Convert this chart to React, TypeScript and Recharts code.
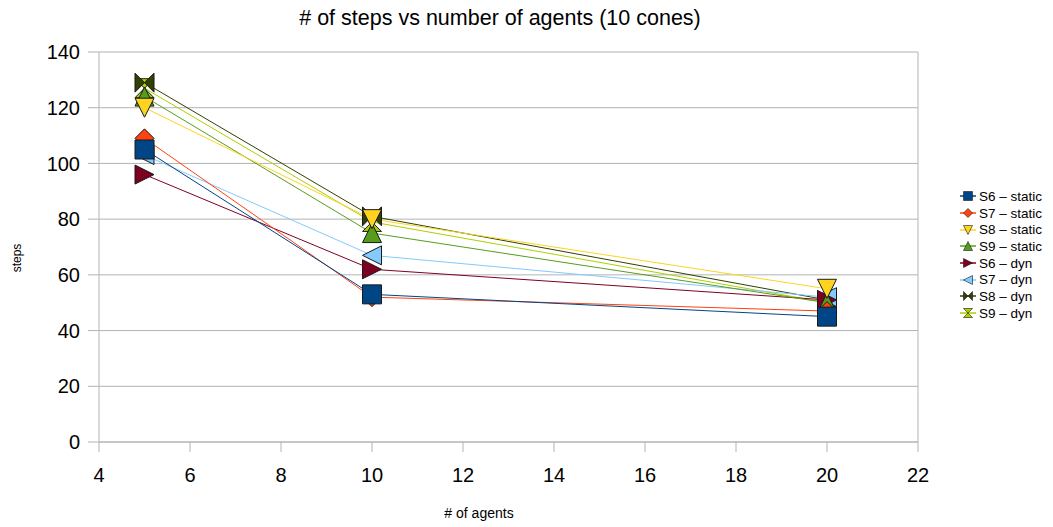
import React from 'react';
import { LineChart, Line, XAxis, YAxis, CartesianGrid, ReferenceLine } from 'recharts';

// # of steps vs number of agents (10 cones)
const agents = [5, 10, 20];

const s6Static = [105, 53, 45];
const s7Static = [109, 52, 47];
const s8Static = [120, 80, 55];
const s9Static = [124, 75, 50];
const s6Dyn = [96, 62, 51];
const s7Dyn = [103, 67, 52];
const s8Dyn = [129, 81, 51];
const s9Dyn = [127, 79, 50];

const xTicks = [4, 6, 8, 10, 12, 14, 16, 18, 20, 22];
const yTicks = [0, 20, 40, 60, 80, 100, 120, 140];

type Shape = 'square' | 'diamond' | 'down' | 'up' | 'right' | 'left' | 'bowtie' | 'hourglass';

const series: { key: string; name: string; color: string; shape: Shape; values: number[] }[] = [
    { key: 's6s', name: 'S6 – static', color: '#004586', shape: 'square', values: s6Static },
    { key: 's7s', name: 'S7 – static', color: '#ff420e', shape: 'diamond', values: s7Static },
    { key: 's8s', name: 'S8 – static', color: '#ffd320', shape: 'down', values: s8Static },
    { key: 's9s', name: 'S9 – static', color: '#579d1c', shape: 'up', values: s9Static },
    { key: 's6d', name: 'S6 – dyn', color: '#7e0021', shape: 'right', values: s6Dyn },
    { key: 's7d', name: 'S7 – dyn', color: '#83caff', shape: 'left', values: s7Dyn },
    { key: 's8d', name: 'S8 – dyn', color: '#314004', shape: 'bowtie', values: s8Dyn },
    { key: 's9d', name: 'S9 – dyn', color: '#aecf00', shape: 'hourglass', values: s9Dyn },
];

const data = agents.map((x, i) => {
    const row: Record<string, number> = { x };
    series.forEach((s) => {
        row[s.key] = s.values[i];
    });
    return row;
});

const FONT = '"Liberation Sans", Arial, sans-serif';
const GRID = '#b3b3b3';

function markerPoints(shape: Shape, cx: number, cy: number, r: number): string {
    const p: [number, number][] = {
        square: [[-r, -r], [r, -r], [r, r], [-r, r]],
        diamond: [[0, -r], [r, 0], [0, r], [-r, 0]],
        down: [[-r, -r], [r, -r], [0, r]],
        up: [[0, -r], [r, r], [-r, r]],
        right: [[-r, -r], [r, 0], [-r, r]],
        left: [[r, -r], [-r, 0], [r, r]],
        bowtie: [[-r, -r], [r, r], [r, -r], [-r, r]],
        hourglass: [[-r, -r], [r, -r], [-r, r], [r, r]],
    }[shape] as [number, number][];
    return p.map(([dx, dy]) => `${cx + dx},${cy + dy}`).join(' ');
}

function Marker({ shape, color, cx, cy, r }: { shape: Shape; color: string; cx: number; cy: number; r: number }) {
    return (
        <polygon
            points={markerPoints(shape, cx, cy, r)}
            fill={color}
            stroke="#1a1a1a"
            strokeWidth={r > 6 ? 1 : 0.6}
            strokeLinejoin="miter"
        />
    );
}

function Legend() {
    return (
        <div style={{ position: 'absolute', left: 958, top: 188, fontFamily: FONT, fontSize: 13.5, color: '#000' }}>
            {series.map((s) => (
                <div key={s.key} style={{ display: 'flex', alignItems: 'center', height: 16.7 }}>
                    <svg width={20} height={12} style={{ marginRight: 1 }}>
                        <line x1={2} y1={6} x2={18} y2={6} stroke={s.color} strokeWidth={1.5} />
                        <Marker shape={s.shape} color={s.color} cx={10} cy={6} r={4.5} />
                    </svg>
                    <span>{s.name}</span>
                </div>
            ))}
        </div>
    );
}

export default function App() {
    return (
        <div style={{ position: 'absolute', left: 0, top: 0, width: 1053, height: 527, background: '#fff', fontFamily: FONT }}>
            <div style={{ position: 'absolute', left: 0, width: 1000, top: 6, textAlign: 'center', fontSize: 21.5, color: '#000' }}>
                # of steps vs number of agents (10 cones)
            </div>
            <LineChart
                width={1053}
                height={527}
                data={data}
                margin={{ top: 52, right: 135, bottom: 45, left: 0 }}
            >
                <CartesianGrid vertical={false} stroke={GRID} strokeWidth={1} />
                <XAxis
                    type="number"
                    dataKey="x"
                    domain={[4, 22]}
                    ticks={xTicks}
                    height={40}
                    tickSize={10}
                    tickMargin={16}
                    axisLine={{ stroke: GRID }}
                    tickLine={{ stroke: GRID }}
                    tick={{ fill: '#000', fontSize: 20, fontFamily: FONT }}
                    allowDecimals={false}
                />
                <YAxis
                    type="number"
                    domain={[0, 140]}
                    ticks={yTicks}
                    width={99}
                    tickSize={11}
                    tickMargin={8}
                    axisLine={{ stroke: GRID }}
                    tickLine={{ stroke: GRID }}
                    tick={{ fill: '#000', fontSize: 20, fontFamily: FONT }}
                />
                <ReferenceLine x={22} stroke={GRID} />
                {[...series].reverse().map((s) => (
                    <Line
                        key={s.key}
                        dataKey={s.key}
                        name={s.name}
                        type="linear"
                        stroke={s.color}
                        strokeWidth={1}
                        isAnimationActive={false}
                        activeDot={false}
                        dot={(props: any) => (
                            <Marker key={`${s.key}-${props.index}`} shape={s.shape} color={s.color} cx={props.cx} cy={props.cy} r={9.5} />
                        )}
                    />
                ))}
            </LineChart>
            <div style={{ position: 'absolute', left: 379, width: 200, top: 505, textAlign: 'center', fontSize: 14, color: '#000' }}>
                # of agents
            </div>
            <div
                style={{
                    position: 'absolute',
                    left: 17,
                    top: 258,
                    transform: 'translate(-50%, -50%) rotate(-90deg)',
                    fontSize: 12,
                    color: '#000',
                    whiteSpace: 'nowrap',
                }}
            >
                steps
            </div>
            <Legend />
        </div>
    );
}
